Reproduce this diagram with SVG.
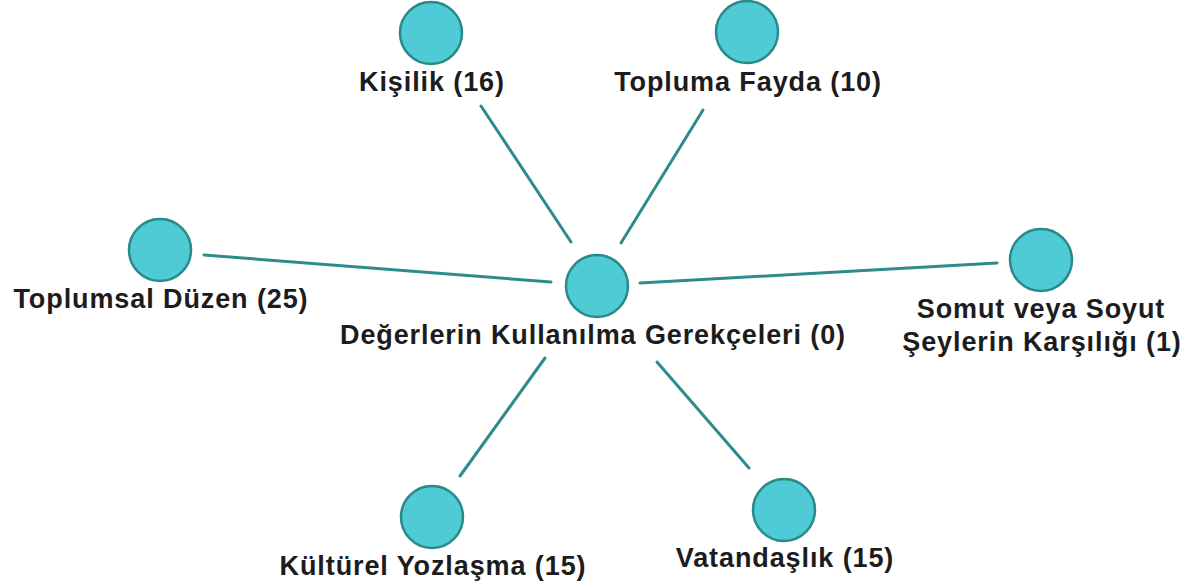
<svg xmlns="http://www.w3.org/2000/svg" width="1182" height="586" viewBox="0 0 1182 586">
<style>
.node circle{fill:#4ecbd4;stroke:#2a8a8a;stroke-width:2.5}
.edge{stroke:#2e8b8b;stroke-width:3;stroke-linecap:round;fill:none}
text{font-family:"Liberation Sans",Arial,sans-serif;font-weight:bold;font-size:27px;letter-spacing:0.9px;fill:#1c1c1c;text-anchor:middle}
</style>
<rect width="1182" height="586" fill="#ffffff"/>
<g id="connectors">
<line class="edge" x1="481" y1="106" x2="571" y2="242"/>
<line class="edge" x1="703" y1="110" x2="621" y2="243"/>
<line class="edge" x1="204" y1="255" x2="551" y2="282"/>
<line class="edge" x1="640" y1="283" x2="997" y2="263"/>
<line class="edge" x1="545" y1="358" x2="460" y2="476"/>
<line class="edge" x1="657" y1="362" x2="749" y2="468"/>
</g>
<g id="node-center" class="node">
<circle cx="597" cy="286" r="31"/>
<text x="593" y="344">Değerlerin Kullanılma Gerekçeleri (0)</text>
</g>
<g id="node-kisilik" class="node">
<circle cx="431" cy="33" r="31"/>
<text x="432" y="91">Kişilik (16)</text>
</g>
<g id="node-topluma-fayda" class="node">
<circle cx="747" cy="32" r="31"/>
<text x="748" y="91">Topluma Fayda (10)</text>
</g>
<g id="node-toplumsal-duzen" class="node">
<circle cx="160" cy="250" r="31"/>
<text x="161" y="308">Toplumsal Düzen (25)</text>
</g>
<g id="node-somut-soyut" class="node">
<circle cx="1041" cy="260" r="31"/>
<text x="1041" y="318">Somut veya Soyut</text>
<text x="1042" y="351">Şeylerin Karşılığı (1)</text>
</g>
<g id="node-kulturel-yozlasma" class="node">
<circle cx="432" cy="517" r="31"/>
<text x="433" y="575">Kültürel Yozlaşma (15)</text>
</g>
<g id="node-vatandaslik" class="node">
<circle cx="784" cy="510" r="31"/>
<text x="785" y="567">Vatandaşlık (15)</text>
</g>
</svg>
